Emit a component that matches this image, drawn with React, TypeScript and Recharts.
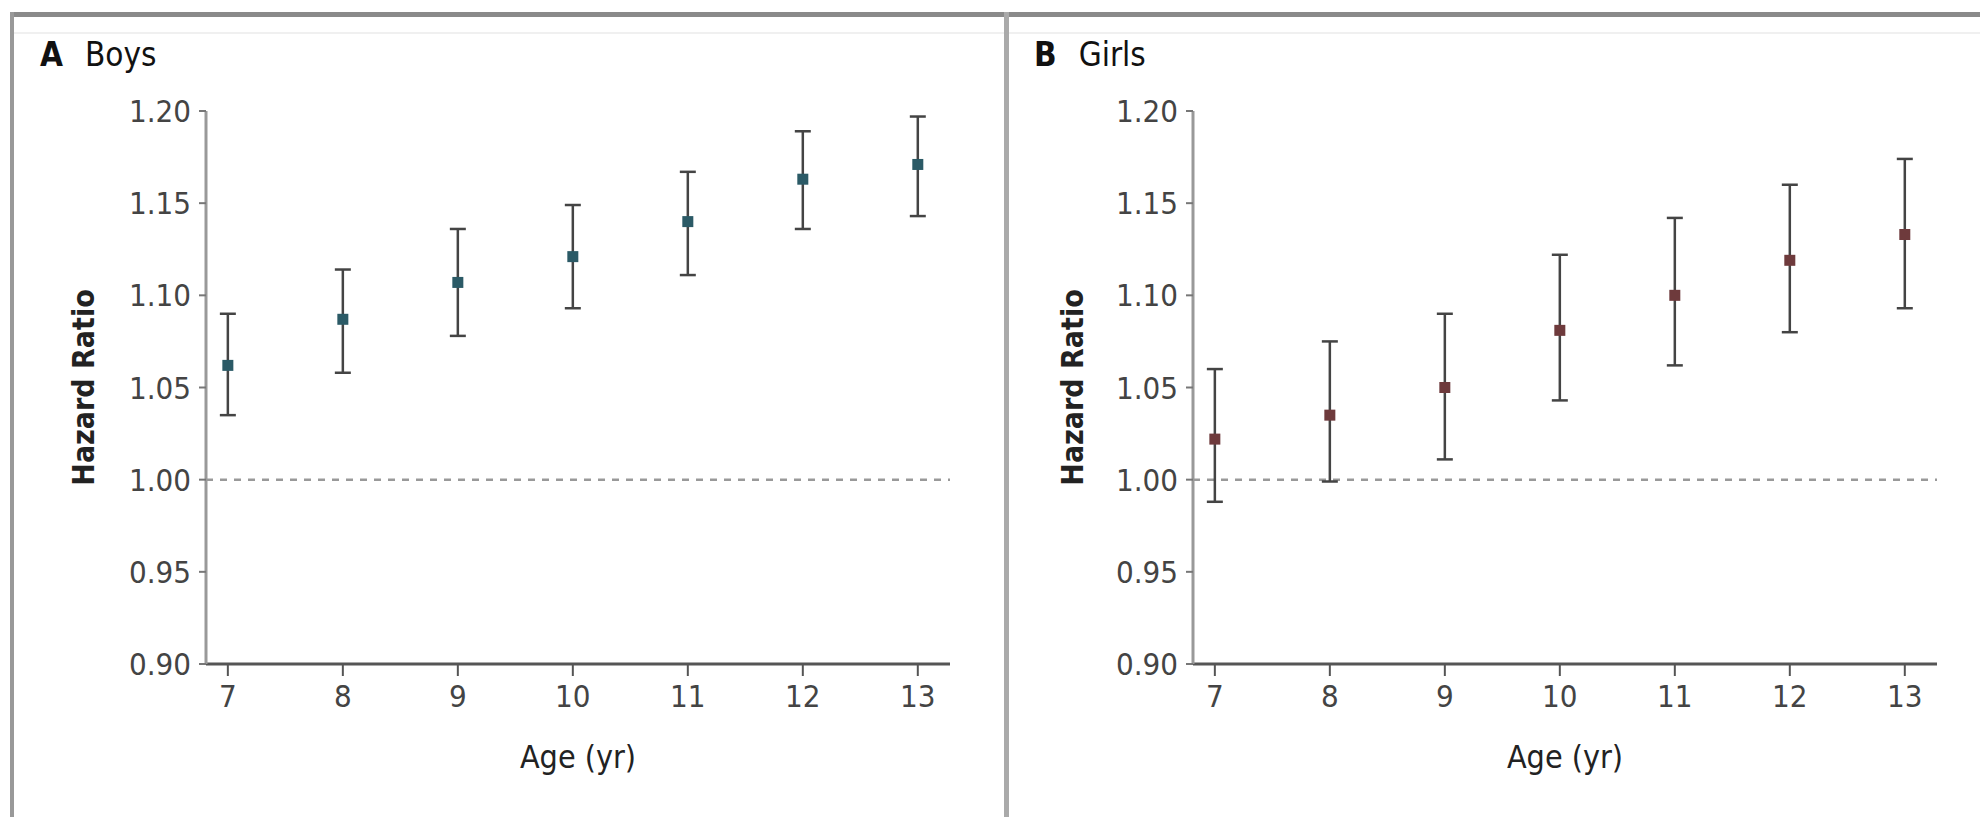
import React from 'react';
import { ComposedChart, Scatter, ErrorBar, XAxis, YAxis, ReferenceLine } from 'recharts';

const ages = [7, 8, 9, 10, 11, 12, 13];
const yTicks = [0.9, 0.95, 1.0, 1.05, 1.1, 1.15, 1.2];

const boysHR = [1.062, 1.087, 1.107, 1.121, 1.14, 1.163, 1.171];
const boysLower = [1.035, 1.058, 1.078, 1.093, 1.111, 1.136, 1.143];
const boysUpper = [1.09, 1.114, 1.136, 1.149, 1.167, 1.189, 1.197];

const girlsHR = [1.022, 1.035, 1.05, 1.081, 1.1, 1.119, 1.133];
const girlsLower = [0.988, 0.999, 1.011, 1.043, 1.062, 1.08, 1.093];
const girlsUpper = [1.06, 1.075, 1.09, 1.122, 1.142, 1.16, 1.174];

const FONT = "'Liberation Sans Narrow', 'DejaVu Sans Condensed', 'Open Sans', sans-serif";

const build = (hr: number[], lo: number[], hi: number[]) =>
  ages.map((a, i) => ({ age: a, hr: hr[i], err: [hr[i] - lo[i], hi[i] - hr[i]] }));

const Square = (props: any) => {
  const { cx, cy, fill } = props;
  if (cx == null || cy == null) return null;
  return <rect x={cx - 5.5} y={cy - 5.5} width={11} height={11} fill={fill} />;
};

type PanelProps = {
  letter: string;
  name: string;
  data: any[];
  color: string;
  left: number;
  marginLeft: number;
  marginRight: number;
  labelOffset: number;
  titleX: number;
};

const Panel = ({ letter, name, data, color, left, marginLeft, marginRight, labelOffset, titleX }: PanelProps) => (
  <div style={{ position: 'absolute', left, top: 0, width: 990, height: 817 }}>
    <div
      style={{
        position: 'absolute',
        left: titleX,
        top: 36,
        fontFamily: FONT,
        fontSize: 33,
        color: '#111',
        whiteSpace: 'nowrap',
        lineHeight: '38px',
      }}
    >
      <span style={{ fontWeight: 700 }}>{letter}</span>
      <span style={{ marginLeft: 22 }}>{name}</span>
    </div>
    <ComposedChart
      width={990}
      height={817}
      data={data}
      margin={{ top: 111, right: marginRight, bottom: 43, left: marginLeft }}
    >
      <XAxis
        type="number"
        dataKey="age"
        domain={[6.81, 13.28]}
        ticks={ages}
        allowDataOverflow
        height={110}
        tickSize={12}
        tickMargin={9}
        axisLine={{ stroke: '#555', strokeWidth: 3 }}
        tickLine={{ stroke: '#555', strokeWidth: 2 }}
        tick={{ fill: '#444', fontSize: 31, fontFamily: FONT }}
        label={{
          value: 'Age (yr)',
          position: 'insideBottom',
          offset: 6,
          style: { fill: '#222', fontSize: 32, fontFamily: FONT },
        }}
      />
      <YAxis
        type="number"
        domain={[0.9, 1.2]}
        ticks={yTicks}
        allowDataOverflow
        width={140}
        tickSize={7}
        tickMargin={8}
        tickFormatter={(v: number) => v.toFixed(2)}
        axisLine={{ stroke: '#999', strokeWidth: 3 }}
        tickLine={{ stroke: '#777', strokeWidth: 2 }}
        tick={{ fill: '#444', fontSize: 31, fontFamily: FONT }}
        label={{
          value: 'Hazard Ratio',
          angle: -90,
          position: 'insideLeft',
          offset: labelOffset,
          style: { textAnchor: 'middle', fill: '#222', fontSize: 30, fontWeight: 700, fontFamily: FONT },
        }}
      />
      <ReferenceLine y={1} stroke="#999" strokeWidth={2.5} strokeDasharray="7 7" />
      <Scatter dataKey="hr" fill={color} shape={Square} isAnimationActive={false}>
        <ErrorBar dataKey="err" direction="y" width={8} stroke="#444" strokeWidth={2.5} />
      </Scatter>
    </ComposedChart>
  </div>
);

export default function App() {
  const boys = build(boysHR, boysLower, boysUpper);
  const girls = build(girlsHR, girlsLower, girlsUpper);
  return (
    <div style={{ position: 'absolute', left: 0, top: 0, width: 1980, height: 817, background: '#fff', overflow: 'hidden' }}>
      <Panel
        letter="A"
        name="Boys"
        data={boys}
        color="#2b5a66"
        left={0}
        marginLeft={66}
        marginRight={40}
        labelOffset={17}
        titleX={40}
      />
      <Panel
        letter="B"
        name="Girls"
        data={girls}
        color="#6e3a3c"
        left={990}
        marginLeft={63}
        marginRight={43}
        labelOffset={19}
        titleX={44}
      />
      <div style={{ position: 'absolute', left: 10, top: 12, width: 1970, height: 5, background: '#8a8a8a' }} />
      <div style={{ position: 'absolute', left: 12, top: 32, width: 1968, height: 2, background: '#f0f0f0' }} />
      <div style={{ position: 'absolute', left: 10, top: 12, width: 4, height: 805, background: '#999' }} />
      <div style={{ position: 'absolute', left: 1004, top: 12, width: 5, height: 805, background: '#aaa' }} />
    </div>
  );
}
